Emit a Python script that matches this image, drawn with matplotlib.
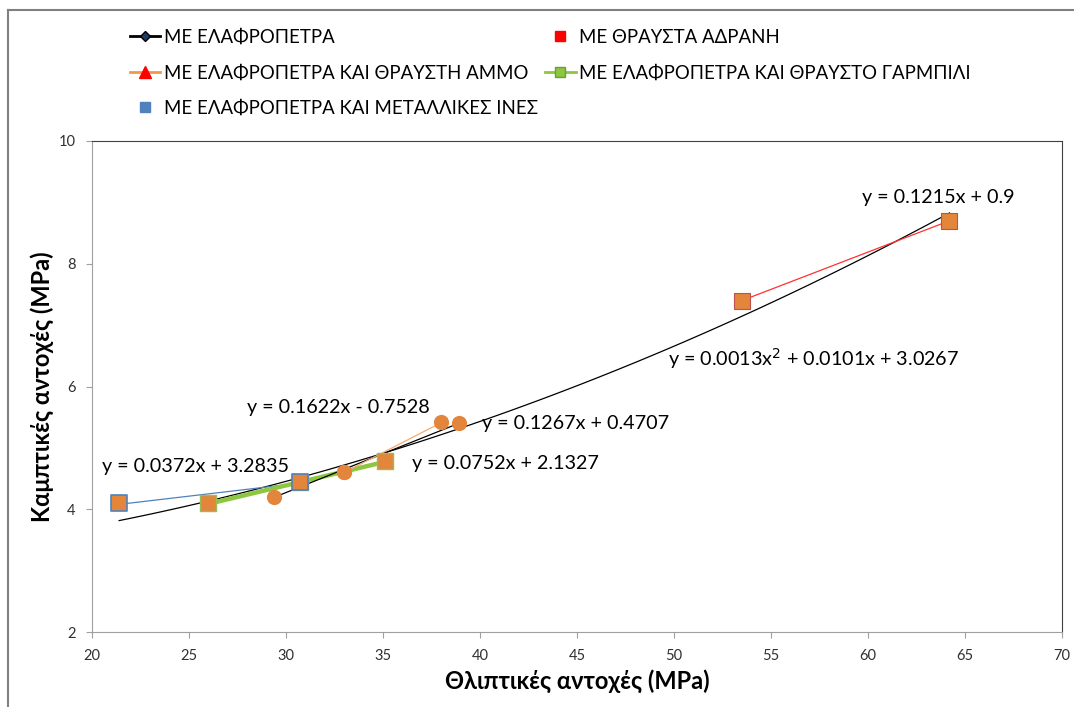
import numpy as np
import matplotlib
matplotlib.use("Agg")
import matplotlib.pyplot as plt
from matplotlib.lines import Line2D

plt.rcParams['font.family'] = ['Lato', 'DejaVu Sans']

# data (compressive vs flexural strength, MPa)
lwa_x = [29.4, 33.0, 38.9]
lwa_y = [4.2, 4.6, 5.4]
sand_x = [33.0, 38.0]
sand_y = [4.6, 5.42]
crushed_x = [53.5, 64.2]
crushed_y = [7.4, 8.7]
gravel_x = [26.0, 30.7, 35.1]
gravel_y = [4.1, 4.45, 4.78]
fibre_x = [21.4, 30.7]
fibre_y = [4.1, 4.45]

# trendline coefficients (the label rounds the x^2 term to 0.0013)
quad_coef = [0.00125, 0.0101, 3.0267]
lwa_coef = [0.1267, 0.4707]
sand_coef = [0.1622, -0.7528]
crushed_coef = [0.1215, 0.9]
gravel_coef = [0.0752, 2.1327]
fibre_coef = [0.0372, 3.2835]

labels = ['ΜΕ ΕΛΑΦΡΟΠΕΤΡΑ', 'ΜΕ ΘΡΑΥΣΤΑ ΑΔΡΑΝΗ',
          'ΜΕ ΕΛΑΦΡΟΠΕΤΡΑ ΚΑΙ ΘΡΑΥΣΤΗ ΑΜΜΟ', 'ΜΕ ΕΛΑΦΡΟΠΕΤΡΑ ΚΑΙ ΘΡΑΥΣΤΟ ΓΑΡΜΠΙΛΙ',
          'ΜΕ ΕΛΑΦΡΟΠΕΤΡΑ ΚΑΙ ΜΕΤΑΛΛΙΚΕΣ ΙΝΕΣ']

orange = '#E3853A'

fig = plt.figure(figsize=(10.74, 7.07), dpi=100)
ax = fig.add_axes([92/1074, 1 - 632/707, (1062 - 92)/1074, (632 - 141)/707])

def trend(xs, coef, **kw):
    xx = np.linspace(min(xs), max(xs), 100)
    ax.plot(xx, np.polyval(coef, xx), zorder=2, **kw)

all_x = fibre_x + gravel_x + lwa_x + sand_x + crushed_x
trend(all_x, quad_coef, color='black', lw=0.9)
trend(fibre_x, fibre_coef, color='#4F81BD', lw=0.9)
trend(gravel_x, gravel_coef, color='#8DC63F', lw=3.2)
trend(lwa_x, lwa_coef, color='black', lw=0.9)
trend(sand_x, sand_coef, color='#F9A86A', lw=0.9)
trend(crushed_x, crushed_coef, color='#FF3030', lw=0.9)

ax.scatter(lwa_x, lwa_y, s=120, marker='o', color=orange, zorder=4, linewidths=0)
ax.scatter(sand_x, sand_y, s=120, marker='o', color=orange, zorder=4, linewidths=0)
ax.scatter(crushed_x, crushed_y, s=120, marker='s', color=orange, edgecolors='#C0504D', linewidths=0.8, zorder=4)
ax.scatter(gravel_x, gravel_y, s=120, marker='s', color=orange, edgecolors='#9BBB59', linewidths=1.0, zorder=4)
ax.scatter(fibre_x, fibre_y, s=120, marker='s', color=orange, edgecolors='#4F81BD', linewidths=1.2, zorder=4)

ax.set_xlim(20, 70)
ax.set_ylim(2, 10)
ax.set_xticks(np.arange(20, 71, 5))
ax.set_yticks([2, 4, 6, 8, 10])
ax.tick_params(direction='out', length=4, color='#A0A0A0', labelsize=10.5, labelcolor='#303030', pad=8)
for side in ['left', 'bottom']:
    ax.spines[side].set_color('#A0A0A0')
for side in ['top', 'right']:
    ax.spines[side].set_color('#404040')

ax.set_xlabel('Θλιπτικές αντοχές (MPa)', fontsize=17, fontweight='bold', labelpad=5)
ax.set_ylabel('Καμπτικές αντοχές (MPa)', fontsize=17, fontweight='bold', labelpad=3)

eq_fs = 14.2
ax.text(63.6, 9.08, 'y = 0.1215x + 0.9', fontsize=eq_fs, ha='center', va='center')
ax.text(49.7, 6.45, 'y = 0.0013x$^{2}$ + 0.0101x + 3.0267', fontsize=eq_fs, ha='left', va='center')
ax.text(28.0, 5.65, 'y = 0.1622x - 0.7528', fontsize=eq_fs, ha='left', va='center')
ax.text(40.1, 5.39, 'y = 0.1267x + 0.4707', fontsize=eq_fs, ha='left', va='center')
ax.text(20.5, 4.69, 'y = 0.0372x + 3.2835', fontsize=eq_fs, ha='left', va='center')
ax.text(36.5, 4.74, 'y = 0.0752x + 2.1327', fontsize=eq_fs, ha='left', va='center')

handles = [
    Line2D([], [], color='black', lw=2, marker='D', ms=5, markerfacecolor='#1F3864'),
    Line2D([], [], color='#F79646', lw=2, marker='^', ms=9, markerfacecolor='#FF0000', markeredgecolor='#FF0000'),
    Line2D([], [], ls='none', marker='s', ms=7, color='#4F81BD'),
    Line2D([], [], ls='none', marker='s', ms=7, color='#FF0000'),
    Line2D([], [], color='#8DC63F', lw=2, marker='s', ms=7, markerfacecolor='#8DC63F', markeredgecolor='#6E9C3A'),
]
leg_labels = [labels[0], labels[2], labels[4], labels[1], labels[3]]
fig.legend(handles, leg_labels, ncol=2, loc='upper left', bbox_to_anchor=(113/1074, 1 - 12/707),
           frameon=False, fontsize=13.4, handlelength=1.65, handletextpad=0.2,
           columnspacing=0.35, labelspacing=1.0)

fig.add_artist(Line2D([8/1074, 8/1074], [0, 1 - 10/707], color='#808080', lw=1.5))
fig.add_artist(Line2D([8/1074, 1], [1 - 10/707, 1 - 10/707], color='#808080', lw=1.5))

fig.savefig('out.png', dpi=100)
